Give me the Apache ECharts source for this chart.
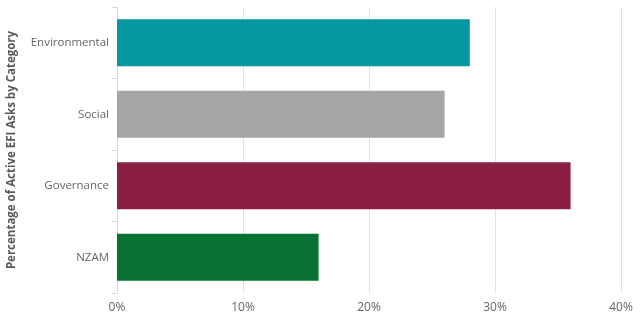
<!DOCTYPE html>
<html><head><meta charset="utf-8">
<script src="https://cdn.jsdelivr.net/npm/echarts@6/dist/echarts.min.js"></script>
<style>html,body{margin:0;padding:0;background:#fff}#c{width:640px;height:321px}</style>
</head><body><div id="c"></div>
<script>
const categories = ['Environmental', 'Social', 'Governance', 'NZAM'];
const values = [28, 26, 36, 16];
const barColors = ['#0597A0', '#A6A6A6', '#8A1F43', '#077233'];
const xTicks = [0, 10, 20, 30, 40];
const axisTitle = 'Percentage of Active EFI Asks by Category';

const chart = echarts.init(document.getElementById('c'), null, {renderer: 'canvas'});
chart.setOption({
  animation: false,
  grid: {left: 117, right: 19, top: 7, bottom: 28, containLabel: false, outerBoundsMode: 'none'},
  xAxis: {
    type: 'value', min: xTicks[0], max: xTicks[xTicks.length - 1], interval: 10,
    axisLine: {show: false}, axisTick: {show: false},
    splitLine: {lineStyle: {color: '#E3E3E3', width: 1}},
    axisLabel: {formatter: v => v + '%', color: '#666666', fontFamily: 'Open Sans', fontSize: 12, margin: 9}
  },
  yAxis: {
    type: 'category', data: categories, inverse: true,
    name: axisTitle, nameLocation: 'middle', nameGap: 99, nameRotate: 90,
    nameTextStyle: {color: '#595959', fontWeight: 'bold', fontFamily: 'Open Sans', fontSize: 11.5},
    axisLine: {show: true, lineStyle: {color: '#D9D9D9'}},
    axisTick: {show: true, length: 5, lineStyle: {color: '#D9D9D9'}},
    axisLabel: {color: '#666666', fontFamily: 'Open Sans', fontSize: 11.5, margin: 8}
  },
  series: [{
    type: 'bar', barWidth: 47,
    data: values.map((v, i) => ({value: v, itemStyle: {color: barColors[i]}}))
  }]
});
</script></body></html>
